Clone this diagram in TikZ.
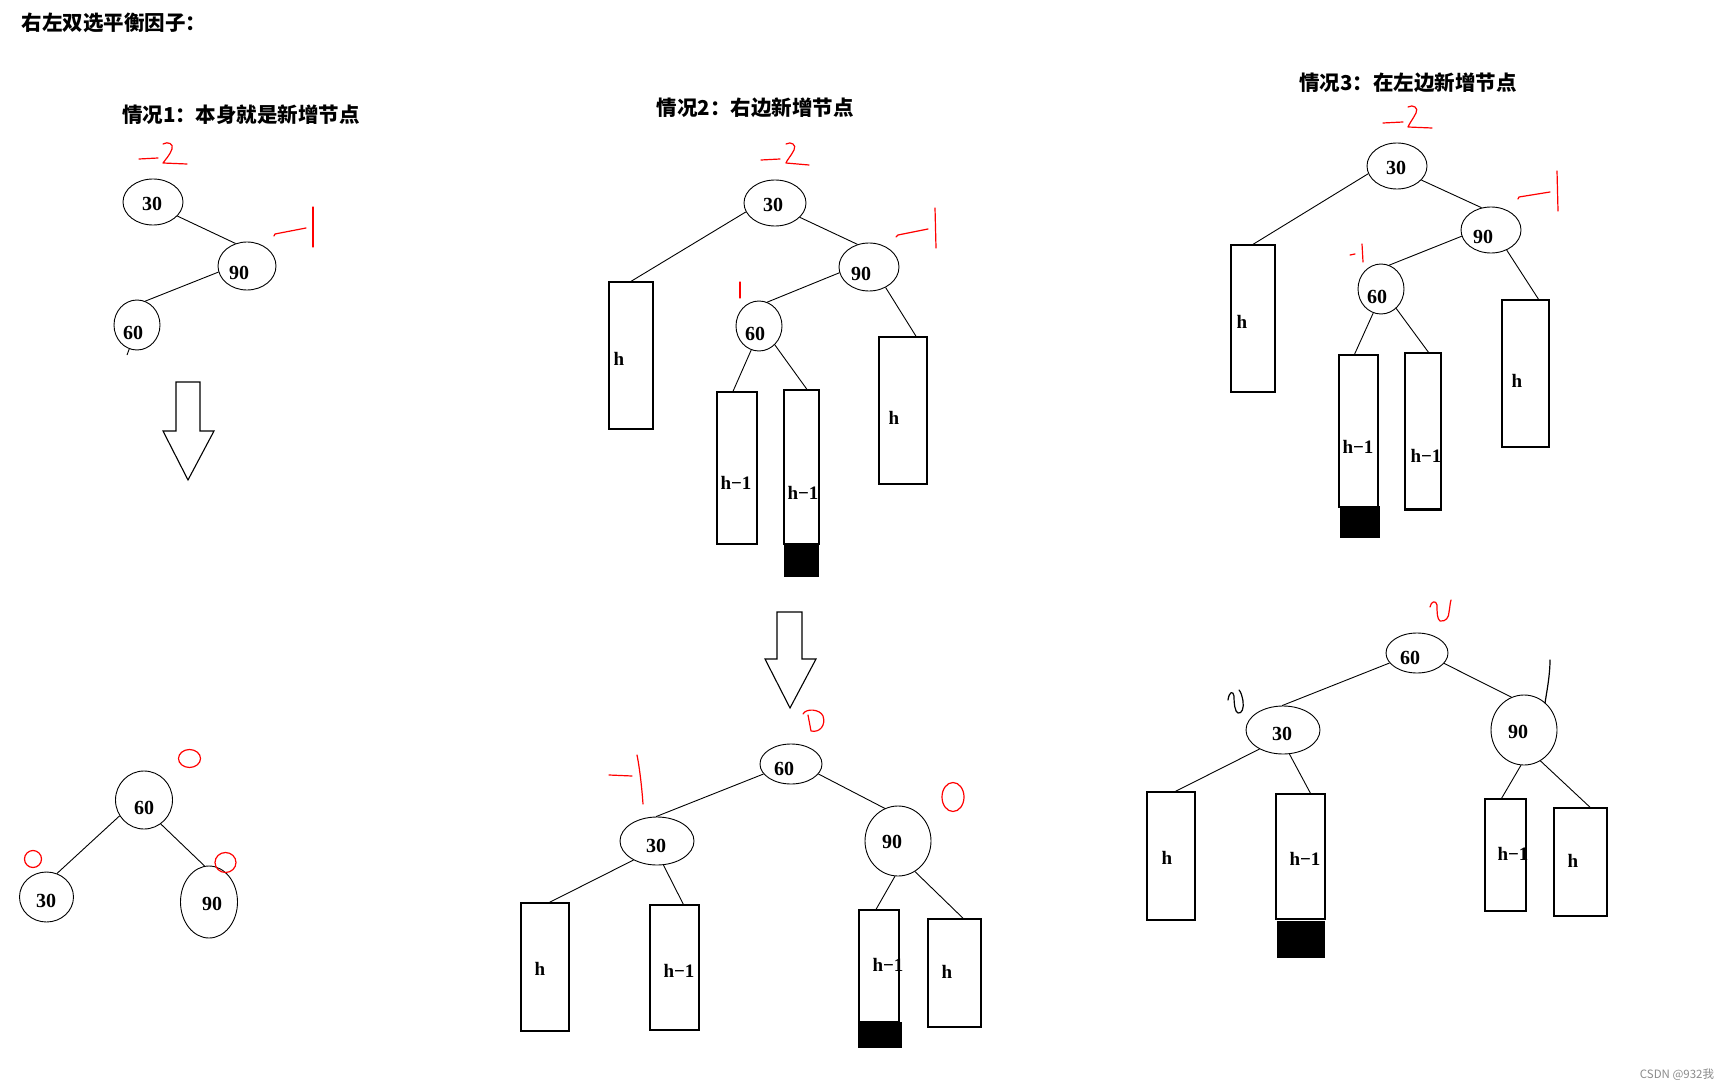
\documentclass[tikz,border=0pt]{standalone}
\usepackage{fontspec}
\setmainfont{Liberation Serif}
\newfontfamily\cjk{Noto Sans CJK SC}
\usetikzlibrary{shapes.geometric}
\tikzset{
  oval/.style={ellipse, draw, line width=0.9pt, inner sep=0pt},
  num/.style={font=\bfseries\fontsize{20}{20}\selectfont, inner sep=0pt},
  sub/.style={rectangle, draw, line width=1.3pt, inner sep=0pt},
  lab/.style={font=\bfseries\fontsize{19}{19}\selectfont, inner sep=0pt},
  edge/.style={line width=0.9pt},
  ink/.style={red, line width=1.2pt, line cap=round, line join=round},
  pen/.style={black, line width=1.2pt, line cap=round, line join=round},
  heading/.style={font=\cjk\bfseries\fontsize{20.5}{20.5}\selectfont, inner sep=0pt},
  bigarrow/.style={draw, line width=1.1pt, fill=white, line join=miter},
}
\begin{document}
\begin{tikzpicture}[x=1pt, y=-1pt]
\useasboundingbox[fill=white] (0,0) rectangle (1731,1091);

% headings
\node[heading] (title) at (114,23) {右左双选平衡因子：};
\node[heading] (h1) at (241,115) {情况1：本身就是新增节点};
\node[heading] (h2) at (755,108) {情况2：右边新增节点};
\node[heading] (h3) at (1408,83) {情况3：在左边新增节点};

% ===== case 1 =====
\node[oval, minimum width=60pt, minimum height=46pt] (a30) at (153,202) {};
\node[oval, minimum width=58pt, minimum height=48pt] (a90) at (247,266) {};
\node[oval, minimum width=46pt, minimum height=50pt] (a60) at (137,325) {};
\node[num] (ta30) at (152,204) {30};
\node[num] (ta90) at (239,273) {90};
\node[num] (ta60) at (133,333) {60};
\coordinate (a60tail) at (127,355);
\draw[edge] (a30.330) -- (a90.117);
\draw[edge] (a90.192) -- (a60.71);
\draw[edge] (a60.252) -- (a60tail);
% red marks
\draw[ink] (139,159) -- (158,158);
\draw[ink] (163,144) .. controls (168,141) and (174,144) .. (172,149) .. controls (170,155) and (165,160) .. (163,163) -- (187,164);
\draw[ink] (274,236) -- (275,234) -- (306,228);
\draw[ink] (313,207) -- (313,247);
% arrow
\draw[bigarrow] (176,382) -- (200,382) -- (200,431) -- (214,431) -- (188,480) -- (163,431) -- (176,431) -- cycle;

% result 1
\node[oval, minimum width=57pt, minimum height=58pt] (b60) at (144,800) {};
\node[oval, minimum width=54pt, minimum height=50pt] (b30) at (46.5,897) {};
\node[oval, minimum width=57pt, minimum height=72pt] (b90) at (209,902) {};
\node[num] (tb60) at (144,808) {60};
\node[num] (tb30) at (46,901) {30};
\node[num] (tb90) at (212,904) {90};
\draw[edge] (b60.213) -- (b30.66);
\draw[edge] (b60.305) -- (b90.97);
\draw[ink] (189.5,758.5) ellipse [x radius=11pt, y radius=9pt];
\draw[ink] (33,859) ellipse [x radius=8.5pt, y radius=8.5pt];
\draw[ink] (225.5,862.5) ellipse [x radius=10.5pt, y radius=10pt];

% ===== case 2 =====
\node[oval, minimum width=62pt, minimum height=46pt] (c30) at (775,203) {};
\node[oval, minimum width=60pt, minimum height=48pt] (c90) at (869,267) {};
\node[oval, minimum width=46pt, minimum height=50pt] (c60) at (759,326) {};
\node[sub, minimum width=44pt, minimum height=147pt] (ch) at (631,355.5) {};
\node[sub, minimum width=40pt, minimum height=152pt] (chl1) at (737,468) {};
\node[sub, minimum width=35pt, minimum height=154pt] (chl2) at (801.5,467) {};
\node[sub, minimum width=48pt, minimum height=147pt] (chr) at (903,410.5) {};
\fill (784,544) rectangle (819,577);
\node[num] (tc30) at (773,205) {30};
\node[num] (tc90) at (861,274) {90};
\node[num] (tc60) at (755,334) {60};
\node[lab] (tch) at (619,359) {h};
\node[lab] (tchl1) at (736,483) {h−1};
\node[lab] (tchl2) at (803,493) {h−1};
\node[lab] (tchr) at (894,418) {h};
\draw[edge] (c30.197) -- (ch.north);
\draw[edge] (c30.330) -- (c90.117);
\draw[edge] (c90.191) -- (c60.71);
\draw[edge] (c90.309) -- (chr.80);
\draw[edge] (c60.252) -- (chl1.93);
\draw[edge] (c60.310) -- (chl2.86);
\draw[ink] (761,160) -- (780,159);
\draw[ink] (786,144) .. controls (791,141) and (797,145) .. (794,150) .. controls (791,156) and (787,160) .. (786,163) -- (809,165);
\draw[ink] (896,237) -- (898,235) -- (928,229);
\draw[ink] (935,208) -- (936,248);
\draw[ink] (740,282) -- (740,298);
% arrow
\draw[bigarrow] (777,612) -- (802,612) -- (802,659) -- (816,659) -- (790,708) -- (765,659) -- (777,659) -- cycle;

% result 2
\node[oval, minimum width=62pt, minimum height=40pt] (d60) at (791,764) {};
\node[oval, minimum width=74pt, minimum height=48pt] (d30) at (657,841) {};
\node[oval, minimum width=66pt, minimum height=70pt] (d90) at (898,841) {};
\node[sub, minimum width=48pt, minimum height=128pt] (dh) at (545,967) {};
\node[sub, minimum width=49pt, minimum height=125pt] (dhl) at (674.5,967.5) {};
\node[sub, minimum width=40pt, minimum height=112pt] (dhl2) at (879,966) {};
\node[sub, minimum width=53pt, minimum height=108pt] (dhr) at (954.5,973) {};
\fill (858,1022) rectangle (902,1048);
\node[num] (td60) at (784,769) {60};
\node[num] (td30) at (656,846) {30};
\node[num] (td90) at (892,842) {90};
\node[lab] (tdh) at (540,969) {h};
\node[lab] (tdhl) at (679,971) {h−1};
\node[lab] (tdhl2) at (888,965) {h−1};
\node[lab] (tdhr) at (947,972) {h};
\draw[edge] (d60.200) -- (d30.92);
\draw[edge] (d60.340) -- (d90.112);
\draw[edge] (d30.219) -- (dh.86);
\draw[edge] (d30.285) -- (dhl.82);
\draw[edge] (d90.265) -- (dhl2.93);
\draw[edge] (d90.299) -- (dhr.81);
\draw[ink] (803,714) .. controls (806,708) and (820,709) .. (823,716) .. controls (826,725) and (820,733) .. (811,731) -- (808,715);
\draw[ink] (609,775) -- (632,776);
\draw[ink] (637,755) .. controls (640,770) and (642,790) .. (643,804);
\draw[ink] (953,797) ellipse [x radius=11pt, y radius=14.5pt];

% ===== case 3 =====
\node[oval, minimum width=60pt, minimum height=46pt] (e30) at (1397,166) {};
\node[oval, minimum width=60pt, minimum height=46pt] (e90) at (1491,230) {};
\node[oval, minimum width=46pt, minimum height=50pt] (e60) at (1381,289) {};
\node[sub, minimum width=44pt, minimum height=147pt] (eh) at (1253,318.5) {};
\node[sub, minimum width=39pt, minimum height=152pt] (ehl1) at (1358.5,431) {};
\node[sub, minimum width=36pt, minimum height=156pt] (ehl2) at (1423,431) {};
\node[sub, minimum width=47pt, minimum height=147pt] (ehr) at (1525.5,373.5) {};
\fill (1340,506) rectangle (1380,538);
\draw[line width=2.5pt] (ehl2.south west) -- (ehl2.south east);
\node[num] (te30) at (1396,168) {30};
\node[num] (te90) at (1483,237) {90};
\node[num] (te60) at (1377,297) {60};
\node[lab] (teh) at (1242,322) {h};
\node[lab] (tehl1) at (1358,447) {h−1};
\node[lab] (tehl2) at (1426,456) {h−1};
\node[lab] (tehr) at (1517,381) {h};
\draw[edge] (e30.195) -- (eh.north);
\draw[edge] (e30.330) -- (e90.113);
\draw[edge] (e90.192) -- (e60.71);
\draw[edge] (e90.308) -- (ehr.80);
\draw[edge] (e60.252) -- (ehl1.93);
\draw[edge] (e60.308) -- (ehl2.86);
\draw[ink] (1383,123) -- (1403,122);
\draw[ink] (1408,107) .. controls (1413,104) and (1419,108) .. (1416,113) .. controls (1413,119) and (1409,124) .. (1408,127) -- (1432,128);
\draw[ink] (1518,199) -- (1519,197) -- (1550,192);
\draw[ink] (1557,171) -- (1558,211);
\draw[ink] (1350,255) -- (1355,254);
\draw[ink] (1362,244) -- (1363,262);

% result 3
\node[oval, minimum width=62pt, minimum height=40pt] (f60) at (1417,653) {};
\node[oval, minimum width=74pt, minimum height=48pt] (f30) at (1283,730) {};
\node[oval, minimum width=66pt, minimum height=70pt] (f90) at (1524,730) {};
\node[sub, minimum width=48pt, minimum height=128pt] (fh) at (1171,856) {};
\node[sub, minimum width=49pt, minimum height=125pt] (fhl) at (1300.5,856.5) {};
\node[sub, minimum width=41pt, minimum height=112pt] (fhl2) at (1505.5,855) {};
\node[sub, minimum width=53pt, minimum height=108pt] (fhr) at (1580.5,862) {};
\fill (1277,921) rectangle (1325,958);
\node[num] (tf60) at (1410,658) {60};
\node[num] (tf30) at (1282,734) {30};
\node[num] (tf90) at (1518,732) {90};
\node[lab] (tfh) at (1167,858) {h};
\node[lab] (tfhl) at (1305,859) {h−1};
\node[lab] (tfhl2) at (1513,854) {h−1};
\node[lab] (tfhr) at (1573,861) {h};
\draw[edge] (f60.200) -- (f30.92);
\draw[edge] (f60.339) -- (f90.111);
\draw[edge] (f30.219) -- (fh.86);
\draw[edge] (f30.285) -- (fhl.81);
\draw[edge] (f90.265) -- (fhl2.94);
\draw[edge] (f90.298) -- (fhr.80);
\draw[ink] (1430,607) .. controls (1431,601) and (1436,600) .. (1437,605) .. controls (1437,612) and (1437,619) .. (1440,621) .. controls (1446,622) and (1449,617) .. (1449,612) .. controls (1450,607) and (1450,603) .. (1451,600);
\draw[pen] (1228,700) .. controls (1229,692) and (1233,690) .. (1234,696) .. controls (1234,704) and (1235,712) .. (1238,713) .. controls (1242,714) and (1244,708) .. (1243,701) .. controls (1242,696) and (1241,692) .. (1239,690);
\draw[pen] (1550,660) .. controls (1550,675) and (1547,690) .. (1545,703);

% watermark
\node[font=\cjk\fontsize{11.5}{11.5}\selectfont, text=black!45, inner sep=0pt] (wm) at (1677,1075) {CSDN @932我};
\end{tikzpicture}
\end{document}
